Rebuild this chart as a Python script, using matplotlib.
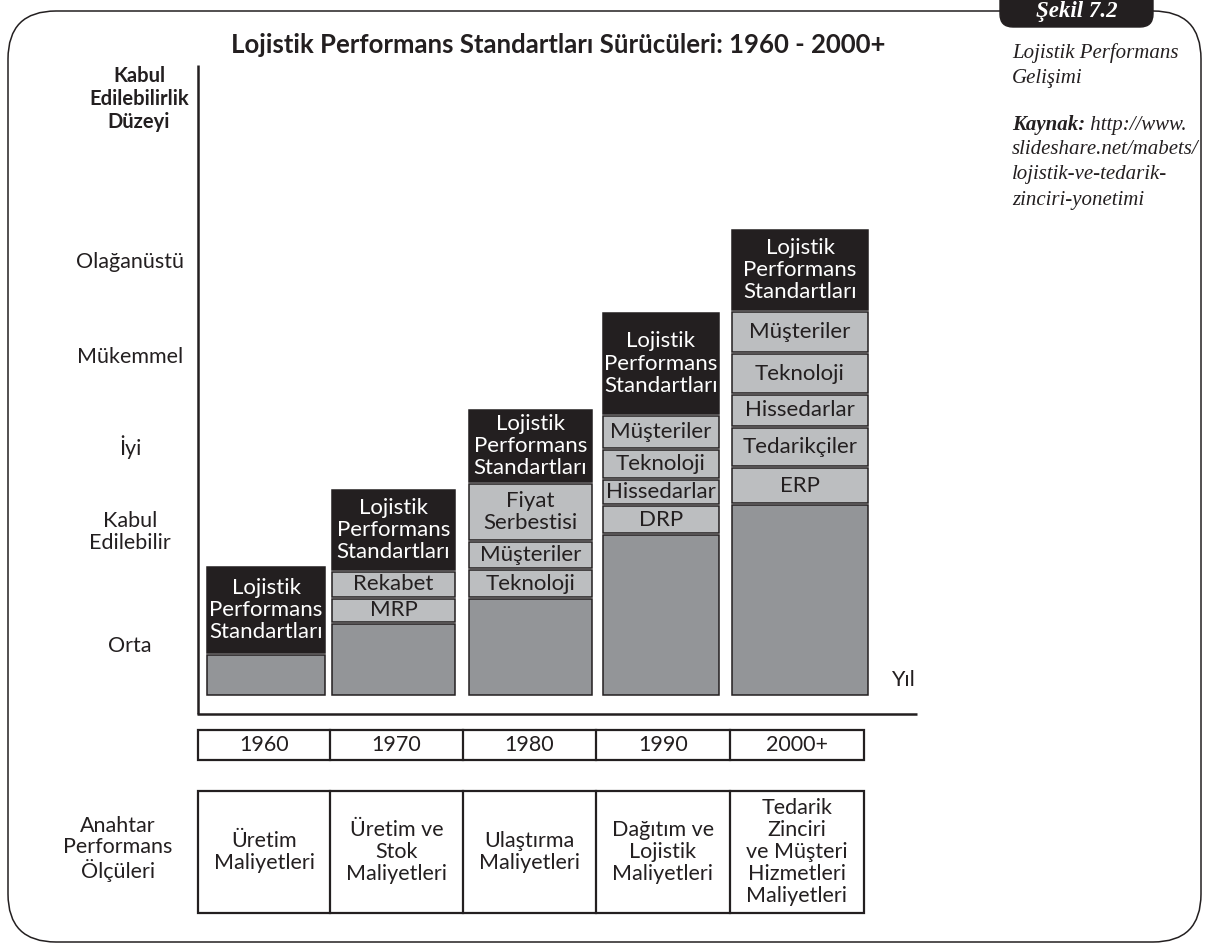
import matplotlib
matplotlib.use("Agg")
import matplotlib.pyplot as plt
from matplotlib.patches import FancyBboxPatch, Rectangle

# ---------------- data ----------------
years = ['1960', '1970', '1980', '1990', '2000+']
header_label = 'Lojistik\nPerformans\nStandartları'
header_heights = [86, 80, 72, 101, 80]
driver_labels = [
    [],
    ['Rekabet', 'MRP'],
    ['Fiyat\nSerbestisi', 'Müşteriler', 'Teknoloji'],
    ['Müşteriler', 'Teknoloji', 'Hissedarlar', 'DRP'],
    ['Müşteriler', 'Teknoloji', 'Hissedarlar', 'Tedarikçiler', 'ERP'],
]
driver_heights = [
    [],
    [25, 23],
    [56, 26, 27],
    [32, 28, 24, 27],
    [40, 39, 31, 38, 35],
]
base_heights = [40, 71, 96, 160, 190]
level_labels = ['Olağanüstü', 'Mükemmel', 'İyi', 'Kabul\nEdilebilir', 'Orta']
level_values = [433, 338, 248, 163, 49]   # height above bar baseline
kpi_labels = [
    'Üretim\nMaliyetleri',
    'Üretim ve\nStok\nMaliyetleri',
    'Ulaştırma\nMaliyetleri',
    'Dağıtım ve\nLojistik\nMaliyetleri',
    'Tedarik\nZinciri\nve Müşteri\nHizmetleri\nMaliyetleri',
]
title = 'Lojistik Performans Standartları Sürücüleri: 1960 - 2000+'
yaxis_title = 'Kabul\nEdilebilirlik\nDüzeyi'
kpi_title = 'Anahtar\nPerformans\nÖlçüleri'
xaxis_title = 'Yıl'
fig_tag = 'Şekil 7.2'
caption_lines = ['Lojistik Performans', 'Gelişimi']
source_label = 'Kaynak:'
source_lines = [' http://www.', 'slideshare.net/mabets/', 'lojistik-ve-tedarik-',
                'zinciri-yonetimi']

# ---------------- layout / style ----------------
W, H = 1208, 944
INK = '#231f20'
BLACK = '#231f20'
LIGHT = '#bcbec0'
DARK = '#939598'
FONT = 'Lato'
SERIF = 'Liberation Serif'
col_left = [207, 332, 469, 603, 732]
col_right = [325, 455, 592, 719, 868]
bar_base = 695
gap = 2
divs = [198, 330, 463, 596, 730, 864]
FS = 15.5

fig = plt.figure(figsize=(W / 100, H / 100), dpi=100)
ax = fig.add_axes([0, 0, 1, 1])
ax.set_xlim(0, W)
ax.set_ylim(H, 0)
ax.axis('off')

# frame
frame = FancyBboxPatch((8, 11), 1193, 931, boxstyle='round,pad=0,rounding_size=48',
                       fc='white', ec=INK, lw=1.1, zorder=0)
ax.add_patch(frame)
tab = FancyBboxPatch((1000, -20), 153, 47, boxstyle='round,pad=0,rounding_size=13',
                     fc=BLACK, ec=BLACK, lw=1, zorder=2)
ax.add_patch(tab)
ax.text(1077, 12, fig_tag, color='white', family=SERIF, style='italic', weight='bold',
        fontsize=16.5, ha='center', va='center', zorder=3)

# title
ax.text(558, 45, title, family=FONT, weight='bold', fontsize=18.5, ha='center',
        va='center', color=INK)

# side caption
cx = 1012
for k, line in enumerate(caption_lines):
    ax.text(cx, 53 + 25 * k, line, family=SERIF, style='italic', fontsize=15,
            ha='left', va='center', color=INK)
t1 = ax.text(cx, 125, source_label, family=SERIF, style='italic', weight='bold',
             fontsize=15, ha='left', va='center', color=INK)
ax.annotate(source_lines[0], xy=(1, 0), xycoords=t1, ha='left', va='bottom',
            family=SERIF, style='italic', fontsize=15, color=INK)
for k, line in enumerate(source_lines[1:]):
    ax.text(cx, 150 + 25 * k, line, family=SERIF, style='italic', fontsize=15,
            ha='left', va='center', color=INK)

# axes lines
ax.plot([198, 198], [65, 714], color=INK, lw=1.8, solid_capstyle='butt')
ax.plot([197, 917], [714, 714], color=INK, lw=1.8, solid_capstyle='butt')
ax.text(139, 99, yaxis_title, family=FONT, weight='bold', fontsize=14.5, ha='center',
        va='center', color=INK, linespacing=1.2)
for lab, v in zip(level_labels, level_values):
    ax.text(130, bar_base - v, lab, family=FONT, fontsize=FS, ha='center', va='center',
            color=INK, linespacing=1.12)
ax.text(903, 680, xaxis_title, family=FONT, fontsize=FS, ha='center', va='center',
        color=INK)

# stacked columns
for i in range(len(years)):
    x0, x1 = col_left[i], col_right[i]
    xc, w = (x0 + x1) / 2, x1 - x0
    segs = [(base_heights[i], DARK, None, INK)]
    for lab, h in zip(reversed(driver_labels[i]), reversed(driver_heights[i])):
        segs.append((h, LIGHT, lab, INK))
    segs.append((header_heights[i], BLACK, header_label, 'white'))
    bottom = bar_base
    for h, fc, lab, tc in segs:
        top = bottom - h
        ax.bar(xc, h, width=w, bottom=top, color=fc, edgecolor=INK, linewidth=1.1, zorder=2)
        if lab:
            ax.text(xc, top + h / 2, lab, family=FONT, fontsize=16, ha='center',
                    va='center', color=tc, linespacing=1.15, zorder=3)
        bottom = top - gap

# tables
ax.add_patch(Rectangle((divs[0], 730), divs[-1] - divs[0], 30, fill=False, ec=INK, lw=1.6, zorder=2))
ax.add_patch(Rectangle((divs[0], 791), divs[-1] - divs[0], 122, fill=False, ec=INK, lw=1.6, zorder=2))
for d in divs[1:-1]:
    ax.plot([d, d], [730, 760], color=INK, lw=1.6)
    ax.plot([d, d], [791, 913], color=INK, lw=1.6)
for i, y in enumerate(years):
    xc = (divs[i] + divs[i + 1]) / 2
    ax.text(xc, 745, y, family=FONT, fontsize=FS, ha='center', va='center', color=INK)
    ax.text(xc, 852, kpi_labels[i], family=FONT, fontsize=FS, ha='center', va='center',
            color=INK, linespacing=1.11)
ax.text(118, 849, kpi_title, family=FONT, fontsize=FS, ha='center', va='center',
        color=INK, linespacing=1.11)

fig.savefig('out.png', dpi=100)
